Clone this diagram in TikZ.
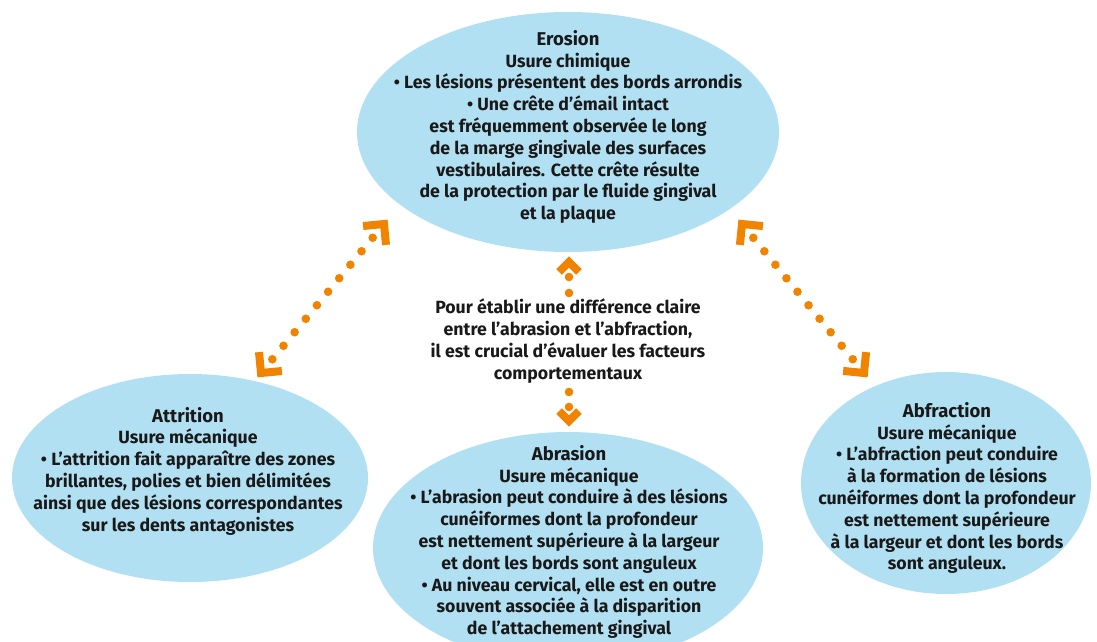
\documentclass[tikz,border=0pt]{standalone}
\usepackage{fontspec}
\setmainfont{Fira Sans}
\usetikzlibrary{calc,shapes.geometric}
\definecolor{bubble}{RGB}{178,224,243}
\definecolor{accent}{RGB}{240,132,0}
\definecolor{ink}{RGB}{25,25,25}
\tikzset{
  bubble/.style={ellipse, fill=bubble, draw=none, inner sep=0pt},
  txt/.style={align=center, font=\fontsize{17.7}{21.8}\selectfont\bfseries, text=ink, inner sep=0pt},
  chev/.style={draw=accent, line width=8pt, line join=miter, line cap=butt},
  dotc/.style={fill=accent},
}
\newcommand{\headline}[1]{{\fontsize{18.5}{21.8}\selectfont #1}}
\begin{document}
\begin{tikzpicture}[x=1pt,y=-1pt]
\useasboundingbox (0,0) rectangle (1097,641);
% bubbles
\node[bubble, minimum width=422pt, minimum height=240pt] (erosion) at (568,132) {};
\node[bubble, minimum width=356pt, minimum height=208pt] (attrition) at (190,478) {};
\node[bubble, minimum width=390pt, minimum height=232pt] (abrasion) at (568,548) {};
\node[bubble, minimum width=290pt, minimum height=222pt] (abfraction) at (946,483) {};
% texts
\node[txt] (erosiontxt) at (568,127) {\headline{Erosion}\\Usure chimique\\• Les lésions présentent des bords arrondis\\• Une crête d’émail intact\\est fréquemment observée le long\\de la marge gingivale des surfaces\\vestibulaires. Cette crête résulte\\de la protection par le fluide gingival\\et la plaque};
\node[txt] (attritiontxt) at (188,471) {\headline{Attrition}\\Usure mécanique\\• L’attrition fait apparaître des zones\\brillantes, polies et bien délimitées\\ainsi que des lésions correspondantes\\sur les dents antagonistes};
\node[txt] (abrasiontxt) at (569,542) {\headline{Abrasion}\\Usure mécanique\\• L’abrasion peut conduire à des lésions\\cunéiformes dont la profondeur\\est nettement supérieure à la largeur\\et dont les bords sont anguleux\\• Au niveau cervical, elle est en outre\\souvent associée à la disparition\\de l’attachement gingival};
\node[txt] (abfractiontxt) at (947,488) {\headline{Abfraction}\\Usure mécanique\\• L’abfraction peut conduire\\à la formation de lésions\\cunéiformes dont la profondeur\\est nettement supérieure\\à la largeur et dont les bords\\sont anguleux.};
\node[txt] (note) at (568,341) {Pour établir une différence claire\\entre l’abrasion et l’abfraction,\\il est crucial d’évaluer les facteurs\\comportementaux};
% arrow ends
\coordinate (t1) at (384,224);
\coordinate (t2) at (261,373);
\coordinate (t3) at (742,224);
\coordinate (t4) at (864,373);
\coordinate (tu) at (569,262);
\coordinate (td) at (569,421);
% left double arrow
\draw[chev] ($(t1)!21pt!45:(t2)$) -- (t1) -- ($(t1)!21pt!-45:(t2)$);
\draw[chev] ($(t2)!21pt!45:(t1)$) -- (t2) -- ($(t2)!21pt!-45:(t1)$);
\coordinate (d1a) at ($(t1)!17.8pt!(t2)$);
\coordinate (d1b) at ($(t2)!17.8pt!(t1)$);
\foreach \i in {0,...,9} \fill[dotc] ($(d1a)!\i/9!(d1b)$) circle (4.3);
% right double arrow
\draw[chev] ($(t3)!21pt!45:(t4)$) -- (t3) -- ($(t3)!21pt!-45:(t4)$);
\draw[chev] ($(t4)!21pt!45:(t3)$) -- (t4) -- ($(t4)!21pt!-45:(t3)$);
\coordinate (d2a) at ($(t3)!17.8pt!(t4)$);
\coordinate (d2b) at ($(t4)!17.8pt!(t3)$);
\foreach \i in {0,...,9} \fill[dotc] ($(d2a)!\i/9!(d2b)$) circle (4.3);
% centre double arrow
\draw[chev] ($(tu)!14pt!45:(td)$) -- (tu) -- ($(tu)!14pt!-45:(td)$);
\draw[chev] ($(td)!14pt!45:(tu)$) -- (td) -- ($(td)!14pt!-45:(tu)$);
\fill[dotc] (569,277) circle (4.3);
\fill[dotc] (569,293) circle (4.3);
\fill[dotc] (569,392) circle (4.3);
\fill[dotc] (569,407) circle (4.3);
\end{tikzpicture}
\end{document}
